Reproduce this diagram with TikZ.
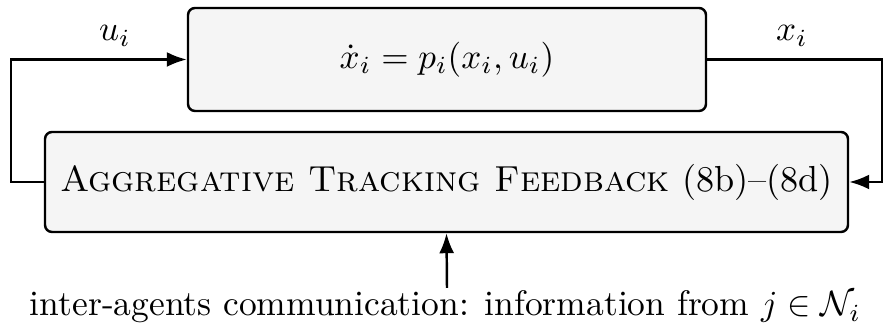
\documentclass[tikz,border=0pt]{standalone}
\usetikzlibrary{arrows.meta}

\begin{document}
\begin{tikzpicture} [blockbox/.style={draw, line width=0.7pt, fill=gray!8, rounded corners=2pt, inner sep=0pt},
	sig/.style={line width=0.7pt, -{Latex[length=2mm, width=1.5mm]}}]
	\useasboundingbox (0,0) rectangle (8.83,3.24);
	% plant and controller
	\node[blockbox, minimum width=5.18cm, minimum height=1.03cm] (plant) at (4.47,2.645) {$\dot{x}_i = p_i(x_i,u_i)$};
	\node[blockbox, minimum width=8.03cm, minimum height=1.0cm, font=\fontsize{10.3}{12}\selectfont] (ctrl) at (4.465,1.42) {\textsc{Aggregative Tracking Feedback} (8b)--(8d)};
	\coordinate (lcorner) at (0.11,1.42);
	\coordinate (rcorner) at (8.82,2.645);
	\node[inner sep=0pt, anchor=base, font=\fontsize{10.1}{12}\selectfont] (comm) at (4.455,0.08) {inter-agents communication: information from $j \in \mathcal{N}_i$};
	\coordinate (cstart) at (4.47,0.36);
	% loops
	\draw[sig] (ctrl.west) -- (lcorner) |- (plant.west);
	\draw[sig] (plant.east) -- (rcorner) |- (ctrl.east);
	\draw[sig] (cstart) -- (ctrl.south);
	\node (ulabel) at (1.15,2.88) {$u_i$};
	\node (xlabel) at (7.92,2.88) {$x_i$};
\end{tikzpicture}
\end{document}
